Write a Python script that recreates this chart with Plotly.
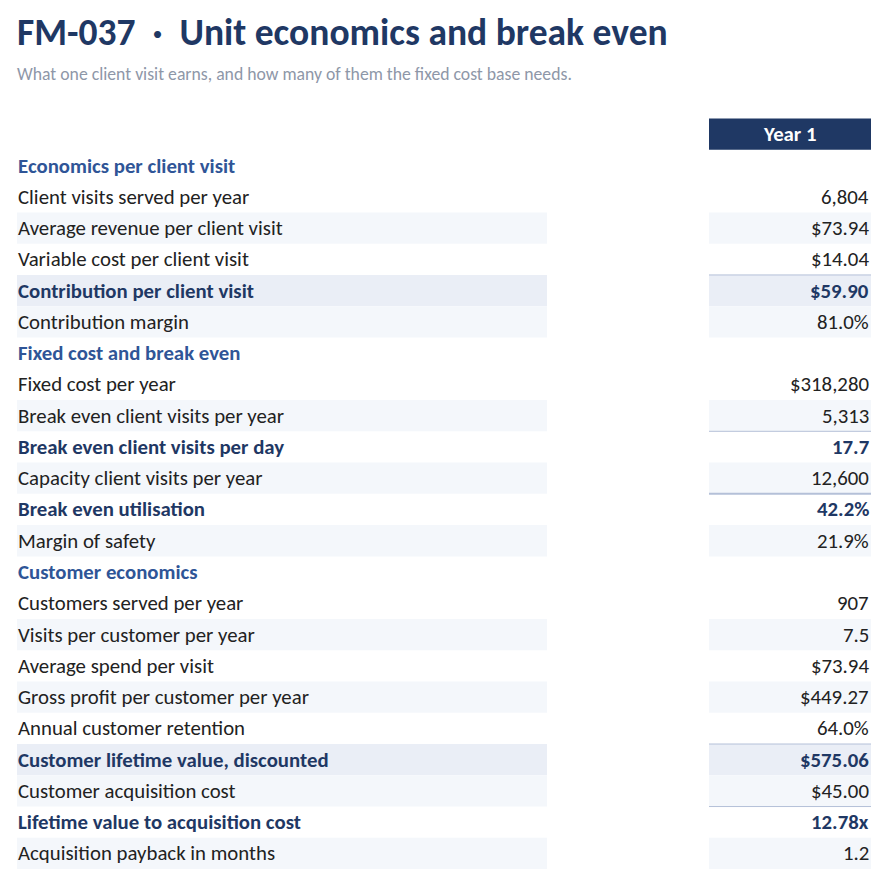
import plotly.graph_objects as go

# rows of the table, top to bottom
labels = [
    "Economics per client visit",
    "Client visits served per year",
    "Average revenue per client visit",
    "Variable cost per client visit",
    "Contribution per client visit",
    "Contribution margin",
    "Fixed cost and break even",
    "Fixed cost per year",
    "Break even client visits per year",
    "Break even client visits per day",
    "Capacity client visits per year",
    "Break even utilisation",
    "Margin of safety",
    "Customer economics",
    "Customers served per year",
    "Visits per customer per year",
    "Average spend per visit",
    "Gross profit per customer per year",
    "Annual customer retention",
    "Customer lifetime value, discounted",
    "Customer acquisition cost",
    "Lifetime value to acquisition cost",
    "Acquisition payback in months",
]
values = [
    "", "6,804", "$73.94", "$14.04", "$59.90", "81.0%",
    "", "$318,280", "5,313", "17.7", "12,600", "42.2%", "21.9%",
    "", "907", "7.5", "$73.94", "$449.27", "64.0%", "$575.06", "$45.00", "12.78x", "1.2",
]
# kind: s = section header, n = normal, b = bold result, h = bold highlighted result
kinds = [
    "s", "n", "n", "n", "h", "n",
    "s", "n", "n", "b", "n", "b", "n",
    "s", "n", "n", "n", "n", "n", "h", "n", "b", "n",
]
# rule above a row: 1 thin, 2 thick
rules = {4: 1, 9: 1, 11: 2, 19: 1, 21: 1}
column_title = "Year 1"

NAVY = "#1f3864"
SECTION = "#2f5597"
STRIPE = "#f4f7fb"
HILITE = "#eaeef6"
RULE = "#b4c0d8"
FONT = "Carlito, Calibri, Lato"
BODY = 20.8

# page sits 8px in from the window edge
LAB_X0, LAB_X1 = 9, 539
VAL_X0, VAL_X1 = 701, 863
pitch = 31.27
y_first = 157.5
H = 880
ymin = -y_first / pitch
ymax = ymin + H / pitch

fig = go.Figure()
shapes = []
annotations = []

# stripes / highlights (highlighted rows do not count toward the banding)
idx = 0
for i, k in enumerate(kinds):
    if k == "s":
        idx = 0
        continue
    if k == "h":
        fill = HILITE
    else:
        fill = STRIPE if idx % 2 == 1 else None
        idx += 1
    if fill:
        for x0, x1 in ((LAB_X0, LAB_X1), (VAL_X0, VAL_X1)):
            shapes.append(dict(type="rect", xref="x", yref="y", x0=x0, x1=x1,
                               y0=i - 0.5, y1=i + 0.5, fillcolor=fill,
                               line=dict(width=0), layer="below"))

for i, w in rules.items():
    shapes.append(dict(type="line", xref="x", yref="y", x0=VAL_X0, x1=VAL_X1,
                       y0=i - 0.5, y1=i - 0.5, line=dict(color=RULE, width=w)))

# column header
shapes.append(dict(type="rect", xref="x", yref="y", x0=VAL_X0, x1=VAL_X1,
                   y0=-1.5, y1=-0.5, fillcolor=NAVY, line=dict(width=0)))
annotations.append(dict(x=(VAL_X0 + VAL_X1) / 2, y=-1, xref="x", yref="y",
                        text="<b>" + column_title + "</b>", showarrow=False,
                        font=dict(family=FONT, size=BODY, color="white")))

for i, (lab, val, k) in enumerate(zip(labels, values, kinds)):
    if k == "s":
        txt, col = "<b>" + lab + "</b>", SECTION
    elif k in ("b", "h"):
        txt, col = "<b>" + lab + "</b>", NAVY
    else:
        txt, col = lab, "#222222"
    annotations.append(dict(x=LAB_X0 - 1, y=i, xref="x", yref="y", text=txt,
                            showarrow=False, xanchor="left",
                            font=dict(family=FONT, size=BODY, color=col)))
    if val:
        vtxt = "<b>" + val + "</b>" if k in ("b", "h") else val
        vcol = NAVY if k in ("b", "h") else "#222222"
        annotations.append(dict(x=VAL_X1, y=i, xref="x", yref="y", text=vtxt,
                                showarrow=False, xanchor="right",
                                font=dict(family=FONT, size=BODY, color=vcol)))

annotations.append(dict(x=7 / 887, y=1 - 24 / H, xref="paper", yref="paper",
                        text="<b>FM-037  ·  Unit economics and break even</b>",
                        showarrow=False, xanchor="left", yanchor="middle",
                        font=dict(family=FONT, size=37.5, color=NAVY)))
annotations.append(dict(x=7 / 887, y=1 - 66 / H, xref="paper", yref="paper",
                        text="What one client visit earns, and how many of them the fixed cost base needs.",
                        showarrow=False, xanchor="left", yanchor="middle",
                        font=dict(family=FONT, size=17.7, color="#8e97a8")))

fig.add_trace(go.Scatter(x=[0], y=[0], mode="markers", marker=dict(opacity=0),
                         hoverinfo="skip", showlegend=False))

fig.update_layout(
    width=887, height=880,
    margin=dict(l=0, r=0, t=0, b=0),
    paper_bgcolor="white", plot_bgcolor="white",
    xaxis=dict(range=[0, 887], visible=False, fixedrange=True),
    yaxis=dict(range=[ymax, ymin], visible=False, fixedrange=True),
    shapes=shapes, annotations=annotations,
    showlegend=False,
)

fig.write_html("out.html")
